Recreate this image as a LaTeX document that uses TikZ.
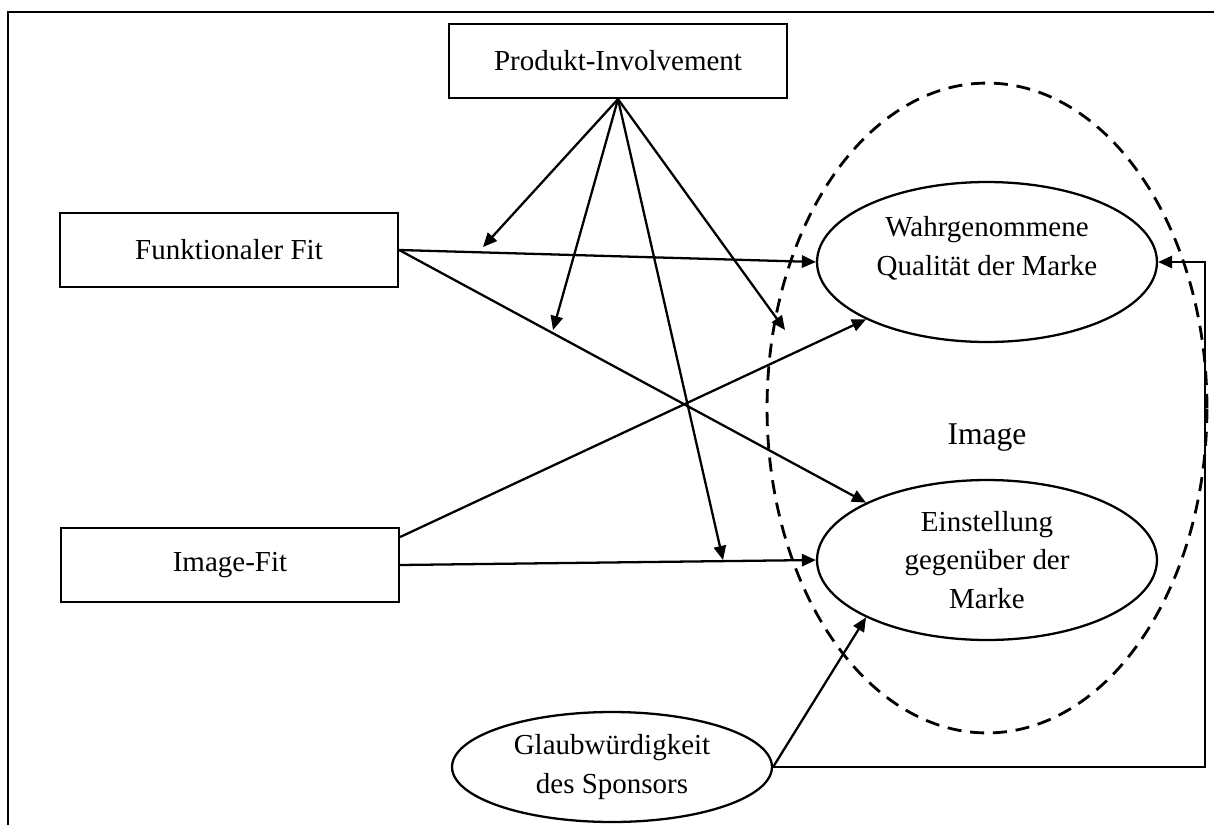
\documentclass[tikz,border=0pt]{standalone}
\usepackage{fontspec}
\setmainfont{Liberation Serif}
\usetikzlibrary{arrows.meta, shapes.geometric}

\begin{document}
\begin{tikzpicture}[
    x=0.02cm, y=-0.02cm,
    font=\fontsize{16.5}{22}\selectfont,
    box/.style={draw, line width=1.3pt, minimum width=6.76cm,
                minimum height=1.48cm, inner sep=0pt},
    oval/.style={draw, ellipse, line width=1.3pt, minimum width=6.8cm,
                 minimum height=3.2cm, inner sep=0pt, align=center},
    arr/.style={-{Triangle[length=8pt, width=7pt]}, line width=1.3pt}
  ]
  \useasboundingbox (0,0) rectangle (1214,825);
  % frame
  \draw[line width=1.6pt] (8,830) |- (1220,12);

  \node[draw, ellipse, line width=1.6pt, dash pattern=on 8pt off 5pt,
        minimum width=8.8cm, minimum height=13cm] (img) at (987,408) {};
  \node[font=\fontsize{18}{22}\selectfont] (imglabel) at (987,438) {Image};

  \node[box] (inv) at (618,61) {Produkt-Involvement};
  \node[box] (funk) at (229,250) {Funktionaler Fit};
  \node[box] (imfit) at (230,565) {Image-Fit};
  \node[oval, text depth=18pt] (qual) at (987,262) {Wahrgenommene\\Qualität der Marke};
  \node[oval] (einst) at (987,560) {Einstellung\\gegenüber der\\Marke};
  \node[oval, minimum width=6.4cm, minimum height=2.2cm] (glaub) at (612,767)
    {Glaubwürdigkeit\\des Sponsors};

  % moderation
  \coordinate (m1) at (483,247);
  \coordinate (m2) at (553,330);
  \coordinate (m3) at (785,330);
  \coordinate (m4) at (723,560);
  \foreach \t in {m1, m2, m3, m4}
    \draw[arr] (inv.south) -- (\t);

  \draw[arr] (funk.east) -- (qual.west);
  \draw[arr] (funk.east) -- (einst.north west);
  \draw[arr] ([yshift=0.56cm]imfit.east) -- (qual.south west);
  \draw[arr] (imfit.east) -- (einst.west);
  \draw[arr] (glaub.east) -- (einst.south west);
  \coordinate (rc) at (1205,262);
  \draw[arr] (glaub.east) -| (rc) -- (qual.east);
\end{tikzpicture}
\end{document}
